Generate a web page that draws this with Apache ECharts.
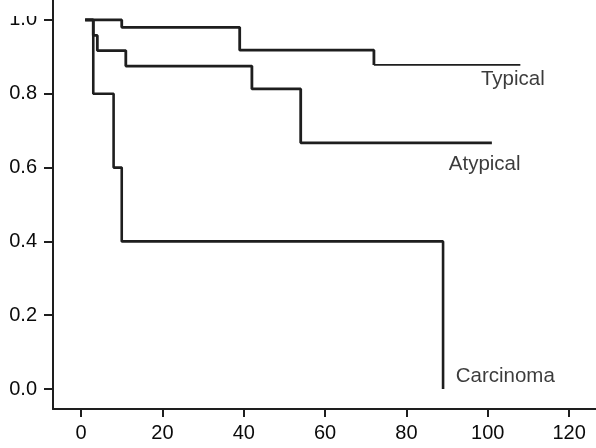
<!DOCTYPE html>
<html>
<head>
<meta charset="utf-8">
<script src="https://cdn.jsdelivr.net/npm/echarts@6/dist/echarts.min.js"></script>
<style>
  html, body { margin: 0; padding: 0; background: #fff; }
  #km { width: 596px; height: 448px; }
</style>
</head>
<body>
<div id="km"></div>
<script>
// survival curves (time, survival proportion)
const typicalTimes = [1, 10, 39, 72, 108];
const typicalSurv = [1.0, 0.98, 0.918, 0.878, 0.878];
const atypicalTimes = [1, 3, 4, 11, 42, 54, 101];
const atypicalSurv = [1.0, 0.958, 0.917, 0.875, 0.813, 0.667, 0.667];
const carcinomaTimes = [1, 3, 8, 10, 89];
const carcinomaSurv = [1.0, 0.8, 0.6, 0.4, 0.0];

const groupNames = ['Typical', 'Atypical', 'Carcinoma'];
// where each group name sits (time, survival)
const nameAnchors = [[98.3, 0.84], [90.4, 0.61], [92.1, 0.035]];

const xTicks = [0, 20, 40, 60, 80, 100, 120];
const yTicks = [0, 0.2, 0.4, 0.6, 0.8, 1.0];

const pairs = (t, s) => t.map((v, i) => [v, s[i]]);
const lineColor = '#1e1e1e';
const textColor = '#0a0a0a';
const font = 'Liberation Sans, Arial, sans-serif';

let chart = echarts.init(document.getElementById('km'));

const typical = pairs(typicalTimes, typicalSurv);
const tailStart = typicalTimes.indexOf(72);

chart.setOption({
  animation: false,
  grid: { left: 53, right: 0, top: 0, bottom: 39 },
  xAxis: {
    type: 'value',
    min: -6.9,
    max: 126.6,
    axisLine: { onZero: false, lineStyle: { color: lineColor, width: 2 } },
    axisTick: { customValues: xTicks, length: 8, lineStyle: { color: lineColor, width: 2 } },
    axisLabel: {
      customValues: xTicks,
      margin: 14,
      fontSize: 20,
      fontFamily: font,
      color: textColor
    },
    splitLine: { show: false }
  },
  yAxis: {
    type: 'value',
    min: -0.054,
    max: 1.054,
    axisLine: { show: true, onZero: false, lineStyle: { color: lineColor, width: 2 } },
    axisTick: { show: true, customValues: yTicks, length: 9, lineStyle: { color: lineColor, width: 2 } },
    axisLabel: {
      customValues: yTicks,
      margin: 16,
      fontSize: 20,
      fontFamily: font,
      color: textColor,
      formatter: v => v.toFixed(1)
    },
    splitLine: { show: false }
  },
  // the top of the "1.0" label is cut off in the original
  graphic: [{
    type: 'rect',
    shape: { x: 0, y: 0, width: 42, height: 16 },
    style: { fill: '#fff' },
    z: 100
  }],
  series: [
    {
      type: 'line', step: 'end', symbol: 'none',
      data: typical.slice(0, tailStart + 1),
      lineStyle: { color: lineColor, width: 2.8 }
    },
    {
      type: 'line', step: 'end', symbol: 'none',
      data: typical.slice(tailStart),
      lineStyle: { color: lineColor, width: 1.7 }
    },
    {
      type: 'line', step: 'end', symbol: 'none',
      data: pairs(atypicalTimes, atypicalSurv),
      lineStyle: { color: lineColor, width: 2.8 }
    },
    {
      type: 'line', step: 'end', symbol: 'none',
      data: pairs(carcinomaTimes, carcinomaSurv),
      lineStyle: { color: lineColor, width: 2.6 }
    },
    {
      type: 'scatter',
      symbolSize: 0,
      data: nameAnchors.map((p, i) => ({ value: p, name: groupNames[i] })),
      label: {
        show: true,
        position: 'right',
        distance: 0,
        formatter: p => p.name,
        fontSize: 20.5,
        fontFamily: font,
        color: textColor
      }
    }
  ]
});
</script>
</body>
</html>
